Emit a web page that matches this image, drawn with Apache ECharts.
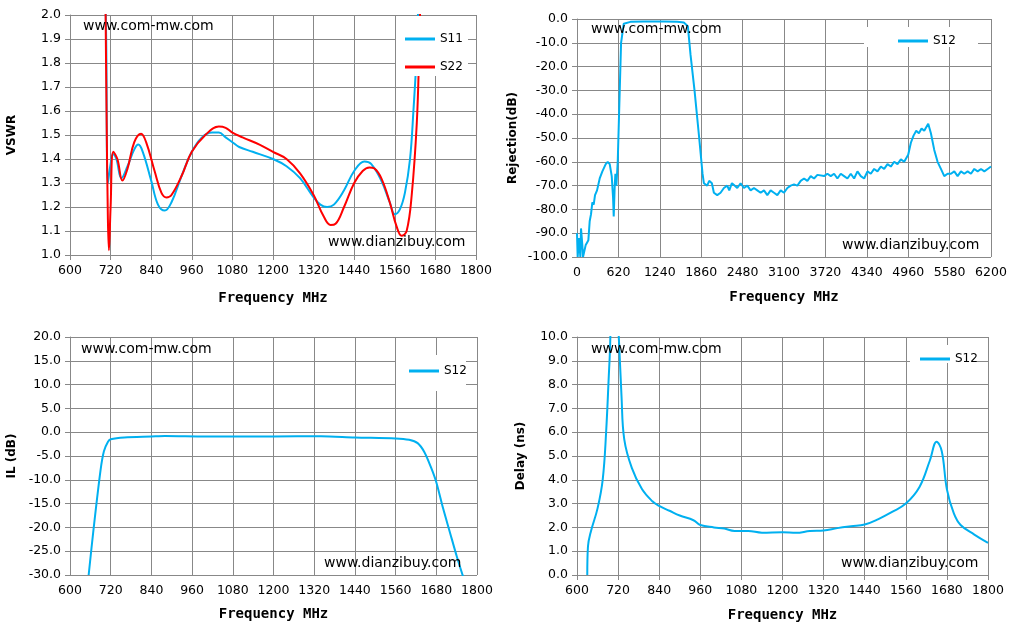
<!DOCTYPE html>
<html>
<head>
<meta charset="utf-8">
<script src="https://cdn.jsdelivr.net/npm/echarts@6/dist/echarts.min.js"></script>
<style>html,body{margin:0;padding:0;background:#fff}#c{width:1013px;height:629px}</style>
</head>
<body>
<div id="c"></div>
<script>
// VSWR, [MHz, value]
var s11_vswr = [[703,2.2],[707,1.9],[712,1.3],[720,1.38],[727,1.42],[737,1.40],[752,1.32],[770,1.37],[790,1.44],[802,1.46],[815,1.43],[840,1.31],[860,1.21],[880,1.185],[900,1.22],[930,1.33],[960,1.43],[990,1.49],[1020,1.51],[1040,1.51],[1060,1.49],[1080,1.47],[1100,1.45],[1140,1.43],[1200,1.40],[1240,1.37],[1280,1.32],[1320,1.24],[1340,1.21],[1360,1.20],[1380,1.21],[1410,1.27],[1440,1.35],[1470,1.39],[1490,1.38],[1520,1.31],[1545,1.22],[1560,1.17],[1575,1.19],[1590,1.26],[1605,1.40],[1615,1.60],[1625,1.85],[1630,2.1]];
var s22_vswr = [[704,2.2],[708,1.6],[712,1.15],[715,1.02],[720,1.2],[728,1.43],[740,1.40],[755,1.31],[770,1.36],[790,1.47],[810,1.505],[825,1.47],[850,1.35],[870,1.26],[885,1.24],[900,1.25],[930,1.33],[960,1.43],[1000,1.50],[1040,1.535],[1060,1.53],[1080,1.51],[1110,1.49],[1160,1.46],[1200,1.43],[1240,1.40],[1280,1.34],[1320,1.25],[1350,1.16],[1370,1.125],[1385,1.13],[1410,1.20],[1440,1.30],[1465,1.35],[1485,1.365],[1500,1.36],[1520,1.32],[1545,1.22],[1565,1.12],[1580,1.08],[1595,1.10],[1610,1.25],[1625,1.55],[1632,1.85],[1636,2.1]];
// Rejection, [MHz, dB]
var s12_rej = [[0,-90],[10,-100],[30,-92],[50,-100],[60,-88],[80,-95],[90,-100],[110,-100],[130,-95],[150,-94],[170,-93],[190,-85],[210,-82],[230,-77],[250,-78],[270,-74],[300,-72],[340,-67],[380,-64],[430,-61],[460,-60],[490,-61],[520,-66],[540,-75],[550,-83],[565,-70],[575,-65],[590,-70],[610,-60],[630,-40],[660,-10],[700,-2],[800,-1.2],[1000,-1],[1300,-1],[1500,-1.2],[1600,-1.5],[1660,-3],[1700,-15],[1760,-30],[1830,-50],[1880,-65],[1900,-69],[1950,-70],[1980,-68],[2020,-69],[2050,-73],[2100,-74],[2150,-73],[2200,-71],[2250,-70],[2280,-72],[2320,-69],[2360,-70],[2400,-71],[2450,-69],[2500,-71],[2550,-70],[2600,-72],[2650,-71],[2700,-72],[2750,-73],[2800,-72],[2850,-74],[2900,-72],[2950,-73],[3000,-74],[3050,-72],[3100,-73],[3150,-71],[3200,-70],[3250,-69.5],[3300,-70],[3350,-68],[3400,-67],[3450,-68],[3500,-66],[3550,-67],[3600,-65.5],[3700,-66],[3750,-65],[3800,-66],[3850,-65],[3900,-67],[3950,-65],[4000,-66],[4050,-67],[4100,-65],[4150,-67],[4200,-64],[4250,-66],[4300,-67],[4350,-64],[4400,-65],[4450,-63],[4500,-64],[4550,-62],[4600,-63],[4650,-61],[4700,-62],[4750,-60],[4800,-61],[4850,-59],[4900,-60],[4960,-57],[5000,-52],[5040,-49],[5080,-47],[5120,-48],[5160,-46],[5200,-47],[5260,-44],[5300,-48],[5350,-55],[5400,-60],[5450,-63],[5500,-66],[5550,-65],[5600,-65],[5650,-64],[5700,-66],[5750,-64],[5800,-65],[5850,-64],[5900,-65],[5950,-63],[6000,-64],[6050,-63],[6100,-64],[6150,-63],[6200,-62]];
// Insertion loss, [MHz, dB]
var s12_il = [[655,-30],[670,-20],[690,-8],[700,-4],[712,-2],[720,-1.5],[760,-1.1],[840,-0.9],[880,-0.8],[1000,-0.9],[1200,-0.9],[1340,-0.85],[1440,-1.1],[1560,-1.3],[1600,-1.6],[1625,-2.3],[1645,-4.2],[1665,-7.5],[1680,-10.5],[1700,-16],[1720,-21],[1740,-26],[1762,-31]];
// Group delay, [MHz, ns]
var s12_delay = [[630,0],[632,1.2],[640,1.8],[660,2.8],[675,4],[685,6],[695,9],[705,11.5],[715,11.5],[722,10],[730,7.5],[738,5.7],[760,4.5],[790,3.6],[820,3.1],[840,2.9],[870,2.7],[900,2.5],[940,2.3],[960,2.1],[1000,2.0],[1030,1.95],[1060,1.85],[1100,1.85],[1140,1.78],[1200,1.8],[1240,1.77],[1280,1.85],[1320,1.87],[1360,1.97],[1400,2.05],[1440,2.12],[1480,2.35],[1520,2.65],[1560,3.0],[1600,3.7],[1630,4.8],[1650,5.6],[1665,5.2],[1680,3.6],[1700,2.6],[1720,2.1],[1760,1.7],[1800,1.35]];

var BLUE = '#00b0f0', RED = '#ff0000', GRID = '#888';
var lbl = {color:'#000', fontFamily:'DejaVu Sans', fontSize:12.5};
var xname = {color:'#000', fontFamily:'DejaVu Sans Mono', fontWeight:'bold', fontSize:14};
var yname = {color:'#000', fontFamily:'DejaVu Sans', fontWeight:'bold', fontSize:12};

function xAx(idx, min, max, step, gap) {
  return {gridIndex:idx, type:'value', min:min, max:max, interval:step,
    name:'Frequency MHz', nameLocation:'middle', nameGap:gap, nameTextStyle:xname,
    axisLine:{lineStyle:{color:GRID}}, axisTick:{show:true, length:5, lineStyle:{color:GRID}},
    axisLabel:Object.assign({margin:9, formatter:function(v){return String(v);}}, lbl),
    splitLine:{show:true, lineStyle:{color:GRID}}};
}
function yAx(idx, min, max, step, name, gap) {
  return {gridIndex:idx, type:'value', min:min, max:max, interval:step,
    name:name, nameLocation:'middle', nameGap:gap, nameTextStyle:yname,
    axisLine:{show:true, lineStyle:{color:GRID}}, axisTick:{show:true, length:5, lineStyle:{color:GRID}},
    axisLabel:Object.assign({margin:9, formatter:function(v){return v.toFixed(1);}}, lbl),
    splitLine:{show:true, lineStyle:{color:GRID}}};
}
function mark(x, y, t) {
  return {type:'text', left:x, top:y, z:100, style:{text:t, fill:'#000', font:'14px "DejaVu Sans"'}};
}
function box(x, y, w, h) {
  return {type:'rect', left:x, top:y, z:50, shape:{width:w, height:h}, style:{fill:'#fff'}};
}
function line(name, data, xi, color, smooth) {
  return {name:name, type:'line', xAxisIndex:xi, yAxisIndex:xi, data:data, smooth:smooth,
    showSymbol:false, lineStyle:{color:color, width:2}, itemStyle:{color:color}, clip:true};
}
var lg = {icon:'path://M0,0L30,0L30,3L0,3Z', itemWidth:30, itemHeight:3, textStyle:{color:'#000', fontFamily:'DejaVu Sans', fontSize:12}, z:60};

var chart = echarts.init(document.getElementById('c'));
chart.setOption({
  animation:false,
  grid:[
    {left:70, top:15, width:406, height:240},
    {left:577, top:19, width:414, height:238},
    {left:70, top:337, width:407, height:238},
    {left:577, top:337, width:411, height:238}
  ],
  xAxis:[xAx(0,600,1800,120,36), xAx(1,0,6200,620,33), xAx(2,600,1800,120,32), xAx(3,600,1800,120,33)],
  yAxis:[yAx(0,1,2,0.1,'VSWR',52), yAx(1,-100,0,10,'Rejection(dB)',58), yAx(2,-30,20,5,'IL (dB)',52), yAx(3,0,10,1,'Delay (ns)',50)],
  legend:[
    Object.assign({data:['S11','S22'], left:400, top:28, orient:'vertical', itemGap:16}, lg),
    Object.assign({data:['S12-r'], left:893, top:30, formatter:function(){return 'S12';}}, lg),
    Object.assign({data:['S12-i'], left:404, top:360, formatter:function(){return 'S12';}}, lg),
    Object.assign({data:['S12-d'], left:915, top:348, formatter:function(){return 'S12';}}, lg)
  ],
  graphic:[
    box(396,16,72,60), box(864,27,114,20), box(396,355,70,36), box(910,345,64,18),
    mark(83,19,'www.com-mw.com'), mark(591,22,'www.com-mw.com'),
    mark(81,342,'www.com-mw.com'), mark(591,342,'www.com-mw.com'),
    mark(328,235,'www.dianzibuy.com'), mark(842,238,'www.dianzibuy.com'),
    mark(324,556,'www.dianzibuy.com'), mark(841,556,'www.dianzibuy.com')
  ],
  series:[
    line('S11', s11_vswr, 0, BLUE, 0.4),
    line('S22', s22_vswr, 0, RED, 0.4),
    line('S12-r', s12_rej, 1, BLUE, false),
    line('S12-i', s12_il, 2, BLUE, 0.3),
    line('S12-d', s12_delay, 3, BLUE, 0.4)
  ]
});
</script>
</body>
</html>
